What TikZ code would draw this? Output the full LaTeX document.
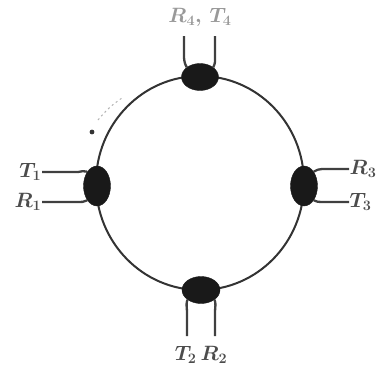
\documentclass[tikz,border=0pt]{standalone}
\usetikzlibrary{shapes.geometric}
\begin{document}
\begin{tikzpicture}[x=1pt,y=-1pt,
  ring/.style={draw=black!80,line width=2pt},
  lead/.style={draw=black!75,line width=2.3pt},
  junc/.style={ellipse,fill=black!90,draw=black!90,inner sep=0pt},
  lab/.style={text=black!70,font=\huge\boldmath,inner sep=0.5pt},
  toplab/.style={text=black!40,font=\huge\boldmath}]
\useasboundingbox (0,0) rectangle (378,375);
\coordinate (c) at (200,183);
\draw[ring] (c) ellipse [x radius=104,y radius=107];
\node[junc,minimum width=37pt,minimum height=27pt] (top) at (200,77) {};
\node[junc,minimum width=38pt,minimum height=27pt] (bot) at (201,290) {};
\node[junc,minimum width=27pt,minimum height=40pt] (lft) at (97,186) {};
\node[junc,minimum width=27pt,minimum height=40pt] (rgt) at (304,186) {};
% top leads
\coordinate (t1) at (184,36);
\coordinate (t2) at (215,36);
\draw[lead] (t1) -- (184,55) to[out=-90,in=120] (top.north west);
\draw[lead] (t2) -- (215,55) to[out=-90,in=60] (top.north east);
% bottom leads
\coordinate (b1) at (187,336);
\coordinate (b2) at (215,336);
\draw[lead] (bot.south west) to[out=-110,in=90] (187,312) -- (b1);
\draw[lead] (bot.south east) to[out=-70,in=90] (215,312) -- (b2);
% left leads
\coordinate (l1) at (42,172);
\coordinate (l2) at (42,202);
\draw[lead] (l1) -- (78,172) to[out=0,in=150] (lft.north west);
\draw[lead] (l2) -- (78,202) to[out=0,in=-150] (lft.south west);
% right leads
\coordinate (r1) at (349,169);
\coordinate (r2) at (349,202);
\draw[lead] (r1) -- (322,169) to[out=180,in=30] (rgt.north east);
\draw[lead] (r2) -- (322,202) to[out=180,in=-30] (rgt.south east);
% labels
\node[toplab] (Ltop) at (200,17) {$R_4,\,T_4$};
\node[lab,anchor=east] (Lt1) at (l1) {$T_1$};
\node[lab,anchor=east] (Lr1) at (l2) {$R_1$};
\node[lab,anchor=west] (Lr3) at (r1) {$R_3$};
\node[lab,anchor=west] (Lt3) at (r2) {$T_3$};
\node[lab] (Lbot) at (201,355) {$T_2\,R_2$};
% faint direction mark
\fill[black!80] (92,132) circle (2.4pt);
\draw[black!30,line width=1pt,dash pattern=on 2pt off 3pt] (98,120) to[bend left=8] (122,98);
\end{tikzpicture}
\end{document}
